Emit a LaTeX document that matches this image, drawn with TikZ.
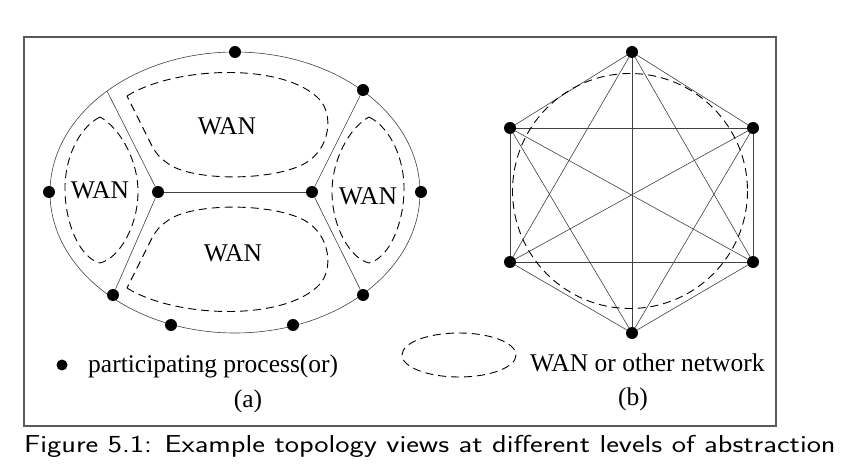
\documentclass[tikz,border=0pt]{standalone}
\usepackage{fontspec}
\setmainfont{Liberation Serif}
\begin{document}
\begin{tikzpicture}[x=1pt,y=-1pt,
  proc/.style={circle,fill=black,inner sep=0pt,minimum size=12pt},
  link/.style={line width=0.6pt,draw=black!75},
  net/.style={line width=0.9pt,dash pattern=on 8pt off 5pt},
  lbl/.style={font=\fontsize{25.5}{30}\selectfont,inner sep=0pt},
]
\useasboundingbox (0,0) rectangle (863,465);
\draw[line width=1.3pt, draw=black!65] (24,37) rectangle (776,426);

% ---------- (a) ----------
\draw[link] (235,192.5) ellipse [x radius=185, y radius=140.5];
\node[proc] (t)  at (235,52) {};
\node[proc] (ur) at (363,90) {};
\node[proc] (r)  at (421,192) {};
\node[proc] (lr) at (363,295) {};
\node[proc] (br) at (293,325) {};
\node[proc] (bl) at (171,325) {};
\node[proc] (ll) at (113,295) {};
\node[proc] (l)  at (49,192) {};
\node[proc] (il) at (158,192) {};
\node[proc] (ir) at (312,192) {};
\coordinate (ul) at (107,91);
\draw[link] (il) -- (ir);
\draw[link] (il) -- (ul);
\draw[link] (il) -- (ll);
\draw[link] (ir) -- (ur);
\draw[link] (ir) -- (lr);

% dashed WAN regions
\draw[net] (127,96) .. controls (175,66) and (285,62) .. (320,100)
  .. controls (333,115) and (330,145) .. (310,160)
  .. controls (285,180) and (200,183) .. (170,165)
  .. controls (160,158) and (157,155) .. (152,146) -- cycle;
\draw[net] (127,288) .. controls (175,318) and (285,322) .. (320,284)
  .. controls (333,269) and (330,239) .. (310,224)
  .. controls (285,204) and (200,201) .. (170,219)
  .. controls (160,226) and (157,229) .. (152,238) -- cycle;
\draw[net] (100,117) .. controls (78,128) and (64,160) .. (65,192)
  .. controls (66,225) and (80,258) .. (100,263)
  .. controls (120,258) and (138,225) .. (138,192)
  .. controls (138,160) and (120,128) .. cycle;
\draw[net] (369,117) .. controls (391,128) and (405,160) .. (404,192)
  .. controls (403,225) and (389,258) .. (369,263)
  .. controls (349,258) and (332,225) .. (332,192)
  .. controls (332,160) and (349,128) .. cycle;

\node[lbl,anchor=base] (w1) at (227,135) {WAN};
\node[lbl,anchor=base] (w2) at (233,262) {WAN};
\node[lbl,anchor=base] (w3) at (100,199) {WAN};
\node[lbl,anchor=base] (w4) at (368,205) {WAN};

% ---------- (b) ----------
\node[proc] (h1) at (632,52) {};
\node[proc] (h2) at (753,128) {};
\node[proc] (h3) at (753,262) {};
\node[proc] (h4) at (632,333) {};
\node[proc] (h5) at (510,262) {};
\node[proc] (h6) at (510,128) {};
\foreach \a/\b in {h1/h2,h1/h3,h1/h4,h1/h5,h1/h6,h2/h3,h2/h4,h2/h5,h2/h6,h3/h4,h3/h5,h3/h6,h4/h5,h4/h6,h5/h6}
  \draw[link] (\a) -- (\b);
\draw[net] (630,191) circle [radius=117.5];

% ---------- legend ----------
\node[proc,minimum size=11pt] (lp) at (62,365) {};
\node[lbl,anchor=base west] (lpt) at (88,373) {participating process(or)};
\draw[net] (459,355) ellipse [x radius=57, y radius=22];
\node[lbl,anchor=base west] (lnt) at (530,372) {WAN or other network};
\node[lbl,anchor=base] (ca) at (248,407) {(a)};
\node[lbl,anchor=base] (cb) at (633,406) {(b)};

\node[anchor=base west,inner sep=0pt,font=\sffamily\fontsize{24.5}{29}\selectfont] (cap) at (24,452)
  {\scalebox{1.2356}[1]{Figure 5.1: Example topology views at different levels of abstraction}};
\end{tikzpicture}
\end{document}
